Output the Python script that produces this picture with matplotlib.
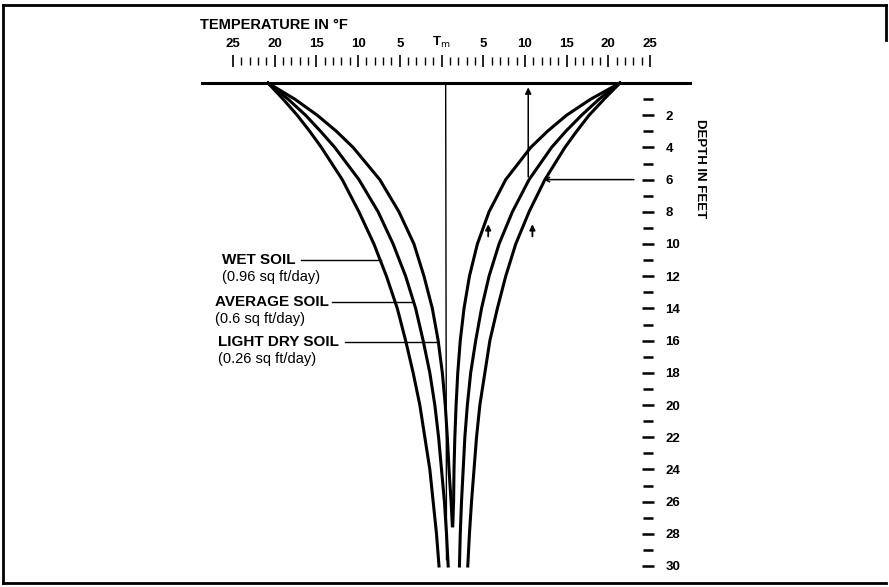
import matplotlib
matplotlib.use('Agg')
import matplotlib.pyplot as plt
from matplotlib.lines import Line2D

plt.rcParams['font.family'] = ['Liberation Sans Narrow', 'Liberation Sans', 'DejaVu Sans']

# depth in feet, temperature in degF relative to Tm (negative = left of Tm)
depth = [0, 1, 2, 3, 4, 6, 8, 10, 12, 14, 16, 18, 20, 22, 24, 26, 28, 30]
depth_dry = [0, 1, 2, 3, 4, 6, 8, 10, 12, 14, 16, 18, 20, 22, 24, 26, 27.5]

wet_left = [-20.8, -19.0, -17.3, -15.8, -14.4, -11.9, -9.9, -8.1, -6.6, -5.3,
            -4.3, -3.4, -2.6, -2.0, -1.4, -1.0, -0.6, -0.3]
avg_left = [-20.8, -18.4, -16.3, -14.5, -12.8, -9.9, -7.6, -5.8, -4.3, -3.1,
            -2.2, -1.4, -0.8, -0.35, 0.0, 0.35, 0.6, 0.8]
dry_left = [-20.8, -17.6, -14.9, -12.6, -10.6, -7.4, -5.1, -3.3, -2.1, -1.1,
            -0.4, 0.1, 0.45, 0.7, 0.9, 1.15, 1.3]
wet_right = [21.4, 19.5, 17.7, 16.2, 14.8, 12.4, 10.5, 8.9, 7.7, 6.7,
             5.8, 5.2, 4.6, 4.2, 3.9, 3.6, 3.35, 3.15]
avg_right = [21.4, 18.9, 16.8, 14.9, 13.2, 10.5, 8.5, 6.9, 5.7, 4.8,
             4.1, 3.5, 3.1, 2.8, 2.6, 2.4, 2.25, 2.15]
dry_right = [21.4, 17.9, 15.0, 12.7, 10.7, 7.7, 5.7, 4.3, 3.35, 2.7,
             2.25, 1.95, 1.75, 1.6, 1.5, 1.45, 1.35]

temp_ticks = [-25, -20, -15, -10, -5, 0, 5, 10, 15, 20, 25]
temp_labels = ['25', '20', '15', '10', '5', r'T$_\mathrm{m}$', '5', '10', '15', '20', '25']
depth_ticks = list(range(2, 31, 2))

soil_names = ['WET SOIL', 'AVERAGE SOIL', 'LIGHT DRY SOIL']
soil_diff = ['(0.96 sq ft/day)', '(0.6 sq ft/day)', '(0.26 sq ft/day)']
leader_depth = [11.0, 13.6, 16.1]
leader_end = [-7.3, -3.4, -0.4]

W, H = 889, 587
fig = plt.figure(figsize=(W / 100, H / 100), dpi=100)
ax = fig.add_axes([0, 0, 1, 1])
# pixel frame: x = 441.5 + 8.34*T, y = 83 + 16.1*d
ax.set_xlim(-441.5 / 8.34, (W - 441.5) / 8.34)
ax.set_ylim((H - 83) / 16.1, -83 / 16.1)

lw = 2.2
for xs, ds in [(wet_left, depth), (avg_left, depth), (dry_left, depth_dry),
               (wet_right, depth), (avg_right, depth), (dry_right, depth_dry)]:
    ax.plot(xs, ds, color='black', lw=lw, solid_joinstyle='round')

# ground surface and Tm line
ax.plot([-28.7, 29.8], [0, 0], color='black', lw=2.2)
ax.plot([0.5, 0.6], [0, 29.6], color='black', lw=1)

# arrows on right side
ax.annotate('', xy=(10.4, 0.1), xytext=(10.4, 6.0),
            arrowprops=dict(arrowstyle='-|>', color='black', lw=1.1, mutation_scale=9))
ax.annotate('', xy=(11.9, 6.0), xytext=(23.4, 6.0),
            arrowprops=dict(arrowstyle='->', color='black', lw=1.1, mutation_scale=8))
for ax_x in [5.6, 10.9]:
    ax.annotate('', xy=(ax_x, 8.6), xytext=(ax_x, 9.7),
                arrowprops=dict(arrowstyle='-|>', color='black', lw=1.3, mutation_scale=8))

# soil labels with leaders
label_x = [222, 215, 218]
leader_start = [-16.9, -13.1, -11.6]
for i in range(3):
    ypix = 83 + 16.1 * leader_depth[i]
    fig.text(label_x[i] / W, 1 - ypix / H, soil_names[i], fontsize=11,
             fontweight='bold', va='center', ha='left')
    fig.text(label_x[i] / W, 1 - (ypix + 17) / H, soil_diff[i], fontsize=10.5,
             va='center', ha='left')
    ax.plot([leader_start[i], leader_end[i]], [leader_depth[i]] * 2,
            color='black', lw=1)

# temperature scale on top
ax.xaxis.set_ticks_position('top')
ax.spines['top'].set_position(('data', -1.37))
ax.set_xticks(temp_ticks)
ax.set_xticklabels(temp_labels, fontsize=9.5, fontweight='bold')
ax.set_xticks(range(-25, 26), minor=True)
ax.tick_params(axis='x', which='major', direction='inout', length=8, width=1.2, pad=4)
ax.tick_params(axis='x', which='minor', direction='inout', length=6, width=1)

# depth scale on right
ax.yaxis.set_ticks_position('right')
ax.spines['right'].set_position(('data', (648 - 441.5) / 8.34))
ax.set_yticks(depth_ticks)
ax.set_yticklabels([str(d) for d in depth_ticks], fontsize=9.5, fontweight='bold')
ax.set_yticks(range(1, 30, 2), minor=True)
ax.tick_params(axis='y', which='major', direction='inout', length=9, width=1.8, pad=8)
ax.tick_params(axis='y', which='minor', direction='inout', length=7, width=1.8)

for s in ax.spines.values():
    s.set_visible(False)
ax.patch.set_alpha(0)

fig.text(200 / W, 1 - 25 / H, 'TEMPERATURE IN \u00b0F', fontsize=10.5,
         fontweight='bold', va='center', ha='left')
fig.text(700 / W, 1 - 169 / H, 'DEPTH IN FEET', fontsize=9.5, fontweight='bold',
         rotation=-90, va='center', ha='center')

# page frame
fig.add_artist(Line2D([3 / W, 886 / W], [1 - 5 / H, 1 - 5 / H], color='black', lw=2))
fig.add_artist(Line2D([3 / W, 3 / W], [1 - 5 / H, 1 - 583 / H], color='black', lw=2))
fig.add_artist(Line2D([3 / W, 886 / W], [1 - 583 / H, 1 - 583 / H], color='black', lw=2))
fig.add_artist(Line2D([886 / W, 886 / W], [1 - 5 / H, 1 - 40 / H], color='black', lw=2))

fig.savefig('out.png', dpi=100)
